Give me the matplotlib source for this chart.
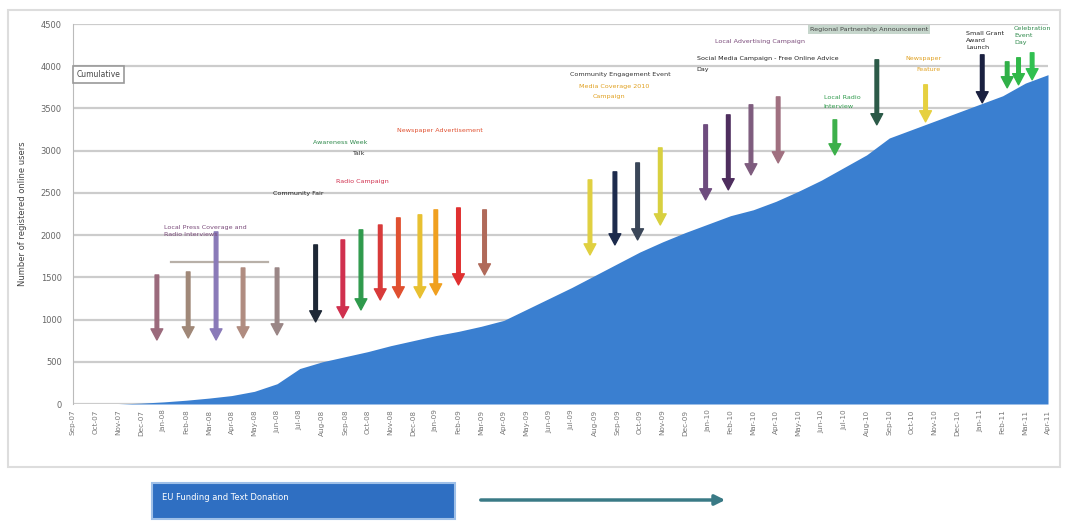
import matplotlib.pyplot as plt
from matplotlib.patches import Rectangle, FancyArrowPatch

# ── Data ──────────────────────────────────────────────────────────────────────

months = ["Sep-07", "Oct-07", "Nov-07", "Dec-07", "Jan-08", "Feb-08", "Mar-08", "Apr-08",
          "May-08", "Jun-08", "Jul-08", "Aug-08", "Sep-08", "Oct-08", "Nov-08", "Dec-08",
          "Jan-09", "Feb-09", "Mar-09", "Apr-09", "May-09", "Jun-09", "Jul-09", "Aug-09",
          "Sep-09", "Oct-09", "Nov-09", "Dec-09", "Jan-10", "Feb-10", "Mar-10", "Apr-10",
          "May-10", "Jun-10", "Jul-10", "Aug-10", "Sep-10", "Oct-10", "Nov-10", "Dec-10",
          "Jan-11", "Feb-11", "Mar-11", "Apr-11"]

users = [0, 0, 0, 10, 25, 45, 70, 100, 150, 240, 420, 500, 560, 620, 690, 750,
         810, 860, 920, 990, 1120, 1250, 1380, 1520, 1660, 1800, 1920, 2030, 2130,
         2230, 2300, 2400, 2520, 2650, 2800, 2950, 3150, 3250, 3350, 3450, 3550,
         3650, 3800, 3900]

# events: position (in months), arrow start and end (users)
event_pos  = [3.7, 5.08, 6.31, 7.5, 9.0, 10.7, 11.9, 12.7, 13.55, 14.35, 15.3, 16.0,
              17.0, 18.15, 22.8, 23.9, 24.9, 25.9, 27.9, 28.9, 29.9, 31.1, 33.6,
              35.45, 37.6, 40.1, 41.2, 41.7, 42.3]
event_top  = [1528, 1564, 2038, 1611, 1611, 1884, 1943, 2062, 2120, 2204, 2240, 2299,
              2322, 2299, 2654, 2749, 2855, 3033, 3306, 3424, 3543, 3637, 3365,
              4076, 3780, 4135, 4052, 4100, 4159]
event_end  = [758, 782, 758, 782, 818, 972, 1019, 1114, 1232, 1256, 1256, 1291,
              1410, 1528, 1765, 1884, 1943, 2120, 2417, 2536, 2713, 2855, 2950,
              3306, 3341, 3566, 3744, 3780, 3839]
event_col  = ["#9b6a7c", "#a08878", "#8a7ab8", "#b08c80", "#9a8686", "#1e2836",
              "#d0304e", "#2f9a4c", "#d83a3a", "#e05030", "#e8c030", "#f0a020",
              "#e03030", "#b06a5a", "#e0d040", "#1c2a4c", "#3a4658", "#d8d040",
              "#6e4c7e", "#4e2e5e", "#7e5c7e", "#a07080", "#3cb04a", "#2c5a48",
              "#e6d040", "#1a2040", "#30b048", "#30b848", "#30c050"]

notes = [
    ("Local Press Coverage and\nRadio Interviews", 4.0, 2050, "#7a4a7a"),
    ("Awareness Week", 10.6, 3100, "#2f8a4c"),
    ("Talk", 12.3, 2970, "#333333"),
    ("Community Fair", 8.8, 2490, "#222222"),
    ("Radio Campaign", 11.6, 2640, "#d0304e"),
    ("Newspaper Advertisement", 14.3, 3240, "#e05030"),
    ("Community Engagement Event", 21.9, 3900, "#333333"),
    ("Media Coverage 2010", 22.3, 3760, "#e0a020"),
    ("Campaign", 22.9, 3640, "#e0a020"),
    ("Social Media Campaign - Free Online Advice", 27.5, 4090, "#222222"),
    ("Day", 27.5, 3960, "#222222"),
    ("Local Advertising Campaign", 28.3, 4290, "#7a4a7a"),
    ("Local Radio", 33.1, 3630, "#2f9a4c"),
    ("Interview", 33.1, 3520, "#2f9a4c"),
    ("Newspaper", 36.7, 4090, "#e0a020"),
    ("Feature", 37.2, 3960, "#e0a020"),
    ("Small Grant\nAward\nLaunch", 39.4, 4300, "#222222"),
    ("Celebration\nEvent\nDay", 41.5, 4360, "#2f8a4c"),
]

# ── Figure ────────────────────────────────────────────────────────────────────

fig = plt.figure(figsize=(10.68, 5.24), dpi=100)
ax = fig.add_axes([73 / 1068, 1 - 404 / 524, (1048 - 73) / 1068, (404 - 24) / 524])

x = list(range(len(months)))
ax.fill_between(x, users, 0, color="#3a7fd0", lw=0, zorder=2)

ax.set_xlim(0, len(months) - 1)
ax.set_ylim(0, 4500)
ax.set_yticks(range(0, 4501, 500))
ax.set_xticks(x)
ax.set_xticklabels(months, rotation=90, fontsize=5.2, color="#777777")
ax.tick_params(axis="y", labelsize=6, colors="#666666", length=0, pad=8)
ax.tick_params(axis="x", length=0, pad=4)
ax.yaxis.grid(True, color="#cccccc", lw=1.6, zorder=0)
for side in ["top", "right", "bottom"]:
    ax.spines[side].set_visible(False)
ax.spines["left"].set_color("#bbbbbb")
ax.set_ylabel("Number of registered online users", fontsize=6, color="#444444", labelpad=10)

# event arrows
for xp, yt, ye, c in zip(event_pos, event_top, event_end, event_col):
    ax.annotate("", xy=(xp, ye), xytext=(xp, yt),
                arrowprops=dict(facecolor=c, edgecolor=c, width=2.6, headwidth=8.5,
                                headlength=8, shrink=0), zorder=4)

# bracket over the early leaflet arrows
ax.plot([4.3, 8.6], [1680, 1680], color="#b8b0a8", lw=1.6, zorder=3)

for txt, xp, yp, c in notes:
    ax.text(xp, yp, txt, fontsize=4.6, color=c, ha="left", va="center", zorder=5,
            linespacing=1.5)

ax.text(0.15, 3900, "Cumulative", fontsize=5.5, color="#444444", va="center",
        bbox=dict(boxstyle="square,pad=0.5", fc="white", ec="#999999", lw=1.2))
ax.text(32.5, 4430, "Regional Partnership Announcement", fontsize=4.6, color="#444444",
        va="center", bbox=dict(boxstyle="square,pad=0.3", fc="#c6d6cc", ec="none"))

# outer frame and funding bar
fig.patches.append(Rectangle((8 / 1068, 1 - 467 / 524), 1052 / 1068, 457 / 524,
                             transform=fig.transFigure, fill=False, ec="#dddddd", lw=1.5))
fig.patches.append(Rectangle((152 / 1068, 1 - 519 / 524), 303 / 1068, 36 / 524,
                             transform=fig.transFigure, fc="#2f6fc2", ec="#9fc0e8", lw=1.5))
fig.text(162 / 1068, 1 - 498 / 524, "EU Funding and Text Donation", fontsize=6,
         color="white", va="center")
fig.patches.append(FancyArrowPatch((478 / 1068, 1 - 500 / 524), (728 / 1068, 1 - 500 / 524),
                                   transform=fig.transFigure, arrowstyle="-|>,head_width=3,head_length=6",
                                   color="#3a7a86", lw=2.5))

fig.savefig("out.png", dpi=100, facecolor="white")
